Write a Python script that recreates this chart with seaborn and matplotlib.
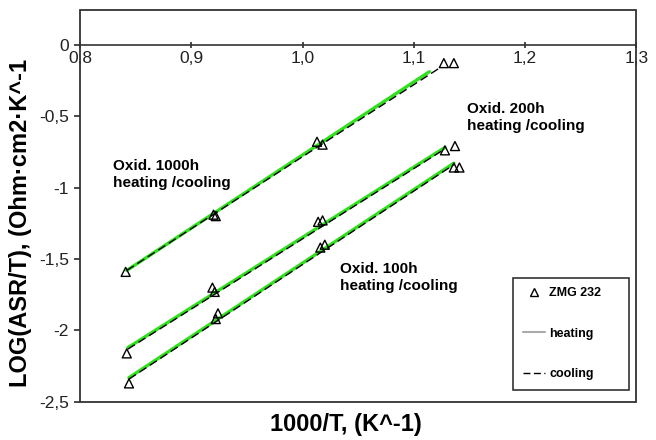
import numpy as np
import pandas as pd
import seaborn as sns
import matplotlib.pyplot as plt
from matplotlib.lines import Line2D
from matplotlib.patches import Rectangle

# measured points, 1000/T vs LOG(ASR/T)
x_1000h = [0.841, 0.920, 0.922, 1.013, 1.018, 1.127, 1.136]
y_1000h = [-1.59, -1.19, -1.20, -0.68, -0.70, -0.13, -0.13]
x_200h = [0.842, 0.919, 0.921, 1.014, 1.018, 1.128, 1.137]
y_200h = [-2.16, -1.70, -1.73, -1.24, -1.23, -0.74, -0.71]
x_100h = [0.844, 0.922, 0.924, 1.016, 1.020, 1.136, 1.141]
y_100h = [-2.37, -1.92, -1.88, -1.42, -1.40, -0.86, -0.86]

# fitted lines (start / end)
heat_x_1000h, heat_y_1000h = [0.842, 1.114], [-1.58, -0.19]
cool_x_1000h, cool_y_1000h = [0.842, 1.124], [-1.58, -0.16]
heat_x_200h, heat_y_200h = [0.843, 1.128], [-2.12, -0.72]
cool_x_200h, cool_y_200h = [0.843, 1.128], [-2.13, -0.73]
heat_x_100h, heat_y_100h = [0.844, 1.136], [-2.33, -0.83]
cool_x_100h, cool_y_100h = [0.844, 1.136], [-2.34, -0.84]

xticks = [0.8, 0.9, 1.0, 1.1, 1.2, 1.3]
xtick_labels = ["0,8", "0,9", "1,0", "1,1", "1,2", "1,3"]
yticks = [0, -0.5, -1, -1.5, -2, -2.5]
ytick_labels = ["0", "-0,5", "-1", "-1,5", "-2", "-2,5"]

pts = pd.DataFrame({
    "x": x_1000h + x_200h + x_100h,
    "y": y_1000h + y_200h + y_100h,
})
heat = pd.DataFrame({
    "x": heat_x_1000h + heat_x_200h + heat_x_100h,
    "y": heat_y_1000h + heat_y_200h + heat_y_100h,
    "oxid": ["1000h"] * 2 + ["200h"] * 2 + ["100h"] * 2,
})
cool = pd.DataFrame({
    "x": cool_x_1000h + cool_x_200h + cool_x_100h,
    "y": cool_y_1000h + cool_y_200h + cool_y_100h,
    "oxid": ["1000h"] * 2 + ["200h"] * 2 + ["100h"] * 2,
})

sns.set_theme(style="ticks")
plt.rcParams['font.family'] = ['Liberation Sans', 'DejaVu Sans']
plt.rcParams['text.color'] = 'black'
plt.rcParams['axes.labelcolor'] = 'black'

fig = plt.figure(figsize=(6.56, 4.40), dpi=100)
ax = fig.add_axes([0.122, 0.0864, 0.848, 0.892])

sns.lineplot(data=heat, x="x", y="y", units="oxid", estimator=None,
             color="#30e01c", linewidth=2.4, ax=ax, legend=False, zorder=2)
sns.lineplot(data=cool, x="x", y="y", units="oxid", estimator=None,
             color="black", linewidth=1.0, linestyle=(0, (6, 3)),
             ax=ax, legend=False, zorder=3)
sns.scatterplot(data=pts, x="x", y="y", marker="^", s=42,
                facecolor="none", edgecolor="black", linewidth=1.0,
                ax=ax, legend=False, zorder=4)

ax.set_xlim(0.8, 1.3)
ax.set_ylim(-2.5, 0.245)
ax.set_xticks(xticks)
ax.set_xticklabels(xtick_labels)
ax.set_yticks(yticks)
ax.set_yticklabels(ytick_labels)

for s in ["top", "right", "left"]:
    ax.spines[s].set_visible(False)
ax.spines["bottom"].set_position(("data", 0))
ax.spines["bottom"].set_color("#333333")
ax.spines["bottom"].set_linewidth(1.2)
ax.add_patch(Rectangle((0, 0), 1, 1, transform=ax.transAxes, fill=False,
                       ec="#333333", lw=1.3, clip_on=False, zorder=5))

ax.tick_params(axis="x", direction="inout", length=5, pad=2, labelsize=12.5,
               colors="#333333", labelcolor="#222222")
ax.tick_params(axis="y", direction="out", length=4, pad=4, labelsize=12.5,
               colors="#333333", labelcolor="#222222")

ax.set_xlabel("1000/T, (K^-1)", fontsize=17, fontweight="bold")
ax.set_ylabel("LOG(ASR/T), (Ohm·cm2·K^-1", fontsize=17, fontweight="bold")
ax.xaxis.set_label_coords(0.477, -0.028)
ax.yaxis.set_label_coords(-0.086, 0.456)

ax.text(0.830, -0.80, "Oxid. 1000h\nheating /cooling", ha="left", va="top",
        fontsize=11, fontweight="bold", linespacing=1.3)
ax.text(1.148, -0.40, "Oxid. 200h\nheating /cooling", ha="left", va="top",
        fontsize=11, fontweight="bold", linespacing=1.3)
ax.text(1.034, -1.52, "Oxid. 100h\nheating /cooling", ha="left", va="top",
        fontsize=11, fontweight="bold", linespacing=1.3)

handles = [
    Line2D([], [], marker="^", ls="none", mfc="none", mec="black", ms=6, label="ZMG 232"),
    Line2D([], [], color="#aaaaaa", lw=1.5, label="heating"),
    Line2D([], [], color="black", lw=1.0, ls=(0, (5, 2.5)), label="cooling"),
]
leg = ax.legend(handles=handles, loc="lower left",
                bbox_to_anchor=(0.779, 0.031, 0.207, 0.29), mode="expand",
                frameon=True, fancybox=False, edgecolor="black",
                prop={"weight": "bold", "size": 9}, labelspacing=2.3,
                handlelength=1.8, handletextpad=0.3, borderpad=0.75,
                borderaxespad=0)
leg.get_frame().set_linewidth(1.2)

fig.savefig("out.png", dpi=100)
